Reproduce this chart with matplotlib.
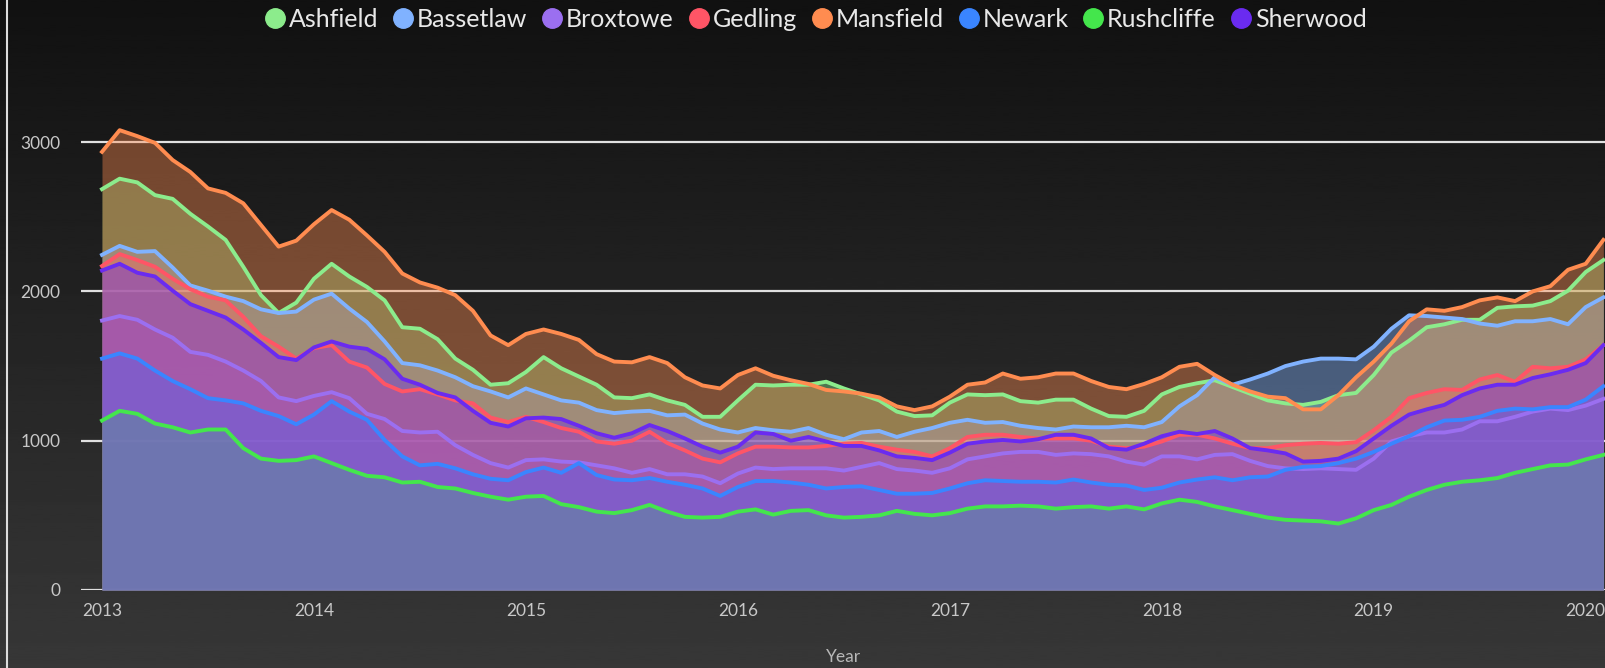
import matplotlib

matplotlib.use('Agg')
import matplotlib.pyplot as plt
from matplotlib.lines import Line2D
import numpy as np

plt.rcParams['font.family'] = ['Lato', 'DejaVu Sans']

# monthly values, Jan 2013 .. Feb 2020
start_year = 2013
n_months = 86

districts = ['Ashfield', 'Bassetlaw', 'Broxtowe', 'Gedling', 'Mansfield', 'Newark', 'Rushcliffe', 'Sherwood']
colours = ['#8cec8c', '#80b2ff', '#9b6ff0', '#ff5566', '#ff8c50', '#3a85ff', '#44e64c', '#6a2bf0']

ashfield = [2685, 2755, 2730, 2645, 2620, 2520, 2435, 2345, 2165, 1975, 1855, 1925, 2085, 2185, 2100,
            2030, 1940, 1760, 1750, 1680, 1550, 1475, 1375, 1385, 1460, 1560, 1485, 1430, 1375,
            1290, 1285, 1310, 1270, 1240, 1160, 1160, 1270, 1375, 1370, 1375, 1375, 1395, 1350,
            1310, 1270, 1195, 1165, 1170, 1255, 1310, 1305, 1310, 1265, 1255, 1275, 1275, 1215,
            1165, 1160, 1200, 1310, 1360, 1385, 1405, 1360, 1315, 1270, 1250, 1240, 1260, 1305,
            1320, 1440, 1590, 1670, 1760, 1780, 1810, 1810, 1890, 1900, 1905, 1935, 2005, 2130, 2210]
bassetlaw = [2245, 2305, 2265, 2270, 2160, 2040, 2005, 1965, 1935, 1880, 1855, 1865, 1945, 1985, 1885,
             1795, 1665, 1520, 1505, 1470, 1425, 1365, 1330, 1290, 1350, 1310, 1270, 1255, 1205,
             1185, 1195, 1200, 1170, 1175, 1115, 1075, 1055, 1085, 1070, 1060, 1085, 1040, 1010,
             1055, 1065, 1025, 1060, 1085, 1120, 1140, 1120, 1125, 1100, 1085, 1075, 1095, 1090,
             1090, 1100, 1090, 1125, 1230, 1305, 1425, 1375, 1410, 1450, 1500, 1530, 1550, 1550,
             1545, 1630, 1750, 1840, 1835, 1825, 1815, 1785, 1770, 1800, 1800, 1815, 1780, 1895, 1960]
broxtowe = [1805, 1835, 1810, 1745, 1690, 1595, 1575, 1530, 1470, 1400, 1290, 1265, 1300, 1325, 1285,
            1180, 1145, 1065, 1055, 1060, 970, 905, 850, 820, 870, 875, 860, 855, 835,
            815, 785, 810, 775, 775, 760, 715, 780, 820, 810, 815, 815, 815, 800,
            825, 850, 810, 800, 785, 815, 875, 895, 915, 925, 925, 905, 915, 910,
            895, 860, 840, 895, 895, 875, 905, 910, 865, 830, 815, 810, 815, 810,
            805, 880, 995, 1030, 1055, 1055, 1075, 1130, 1130, 1160, 1195, 1215, 1205, 1235, 1280]
gedling = [2170, 2250, 2210, 2165, 2085, 2015, 1965, 1940, 1830, 1700, 1630, 1550, 1620, 1640, 1530,
           1490, 1380, 1330, 1345, 1310, 1270, 1250, 1155, 1125, 1160, 1125, 1085, 1060, 995,
           980, 1000, 1060, 985, 935, 880, 855, 915, 960, 960, 955, 955, 965, 980,
           985, 960, 940, 925, 895, 950, 1025, 1040, 1040, 1025, 1015, 1015, 1015, 1000,
           960, 950, 960, 995, 1040, 1040, 1015, 980, 950, 950, 970, 980, 985, 980,
           990, 1070, 1160, 1285, 1320, 1345, 1340, 1410, 1440, 1395, 1495, 1485, 1495, 1545, 1640]
mansfield = [2935, 3080, 3040, 2995, 2880, 2800, 2690, 2660, 2590, 2445, 2300, 2340, 2450, 2545, 2480,
             2375, 2265, 2120, 2060, 2025, 1975, 1870, 1705, 1640, 1715, 1745, 1715, 1675, 1580,
             1530, 1525, 1560, 1520, 1425, 1370, 1350, 1440, 1485, 1435, 1405, 1380, 1340, 1330,
             1315, 1290, 1230, 1205, 1230, 1295, 1375, 1390, 1450, 1415, 1425, 1450, 1450, 1400,
             1360, 1345, 1380, 1425, 1495, 1515, 1440, 1375, 1330, 1295, 1285, 1210, 1210, 1305,
             1425, 1530, 1650, 1800, 1880, 1870, 1895, 1940, 1960, 1935, 2000, 2035, 2145, 2185, 2345]
newark = [1550, 1585, 1550, 1470, 1400, 1345, 1285, 1270, 1250, 1200, 1165, 1110, 1175, 1265, 1195,
          1140, 1005, 895, 835, 845, 815, 775, 745, 735, 790, 820, 785, 850, 770,
          740, 735, 750, 725, 705, 680, 630, 690, 730, 730, 720, 705, 680, 690,
          695, 670, 645, 645, 650, 680, 715, 735, 730, 725, 725, 720, 740, 720,
          705, 700, 670, 685, 720, 740, 755, 735, 755, 760, 805, 825, 830, 850,
          880, 925, 980, 1030, 1090, 1135, 1140, 1160, 1200, 1215, 1210, 1225, 1225, 1275, 1365]
rushcliffe = [1135, 1200, 1180, 1115, 1090, 1055, 1075, 1075, 950, 880, 865, 870, 895, 850, 805,
              765, 755, 720, 725, 690, 680, 650, 625, 605, 625, 630, 575, 555, 525,
              515, 535, 570, 525, 490, 485, 490, 525, 540, 505, 530, 535, 500, 485,
              490, 500, 530, 510, 500, 515, 545, 560, 560, 565, 560, 545, 555, 560,
              545, 560, 540, 580, 605, 590, 560, 535, 510, 485, 470, 465, 460, 445,
              480, 535, 570, 625, 670, 705, 725, 735, 750, 785, 810, 835, 840, 875, 905]
sherwood = [2140, 2185, 2125, 2100, 2005, 1915, 1870, 1825, 1745, 1655, 1560, 1540, 1625, 1665, 1630,
            1615, 1545, 1415, 1375, 1320, 1290, 1200, 1120, 1095, 1150, 1155, 1145, 1100, 1050,
            1020, 1050, 1105, 1065, 1015, 960, 920, 960, 1055, 1045, 1000, 1025, 995, 965,
            965, 935, 895, 885, 870, 920, 980, 995, 1005, 995, 1010, 1040, 1040, 1015,
            950, 940, 980, 1030, 1060, 1045, 1065, 1015, 950, 935, 915, 860, 865, 880,
            930, 1015, 1100, 1175, 1210, 1240, 1305, 1350, 1375, 1375, 1420, 1445, 1475, 1520, 1640]

series = [ashfield, bassetlaw, broxtowe, gedling, mansfield, newark, rushcliffe, sherwood]
years = list(range(2013, 2021))

x = start_year + np.arange(n_months) / 12.0

fig = plt.figure(figsize=(16.05, 6.68), dpi=100)

# dark vertical gradient behind everything
bg = fig.add_axes([0, 0, 1, 1], zorder=-10)
grad = np.linspace(0.067, 0.216, 256).reshape(-1, 1)
bg.imshow(grad, aspect='auto', cmap='gray', vmin=0, vmax=1, extent=[0, 1, 0, 1], origin='upper')
bg.set_axis_off()

ax = fig.add_axes([81 / 1605, 78 / 668, 1 - 81 / 1605, 550 / 668])
ax.set_facecolor('none')

for vals, col in zip(series, colours):
    ax.fill_between(x, 0, vals, color=col, alpha=0.4, linewidth=0, zorder=2)
for vals, col, name in zip(series, colours, districts):
    ax.plot(x, vals, color=col, linewidth=2.8, zorder=3, label=name, solid_joinstyle='round')

ax.set_xlim(2013 - 21 / 212, 2013 + (1605 - 101.7) / 212)
ax.set_ylim(0, 3684)
ax.set_yticks([0, 1000, 2000, 3000])
ax.set_xticks(years)
ax.set_xticklabels([str(y) for y in years])
ax.yaxis.grid(True, color='#e0e0e0', linewidth=1.6, zorder=1)
ax.set_axisbelow(True)
ax.tick_params(axis='both', length=0, labelsize=12.5, labelcolor='#c8c8c8')
ax.tick_params(axis='y', pad=15)
ax.tick_params(axis='x', pad=9)
for s in ['top', 'right', 'left', 'bottom']:
    ax.spines[s].set_visible(False)
ax.set_xlabel('Year', color='#b8b8b8', fontsize=12.5, labelpad=22)

handles = [Line2D([], [], marker='o', linestyle='none', markersize=14, markerfacecolor=c,
                  markeredgecolor=c) for c in colours]
leg = fig.legend(handles, districts, loc='upper center', bbox_to_anchor=(0.507, 1.022), ncol=8,
                 frameon=False, fontsize=18, handletextpad=0.0, columnspacing=0.45, handlelength=1.1)
for t in leg.get_texts():
    t.set_color('#e8e8e8')

fig.add_artist(Line2D([6.5 / 1605, 6.5 / 1605], [0, 1], color='#dddddd', linewidth=1.5))

fig.savefig('out.png', dpi=100, facecolor='#111111')
